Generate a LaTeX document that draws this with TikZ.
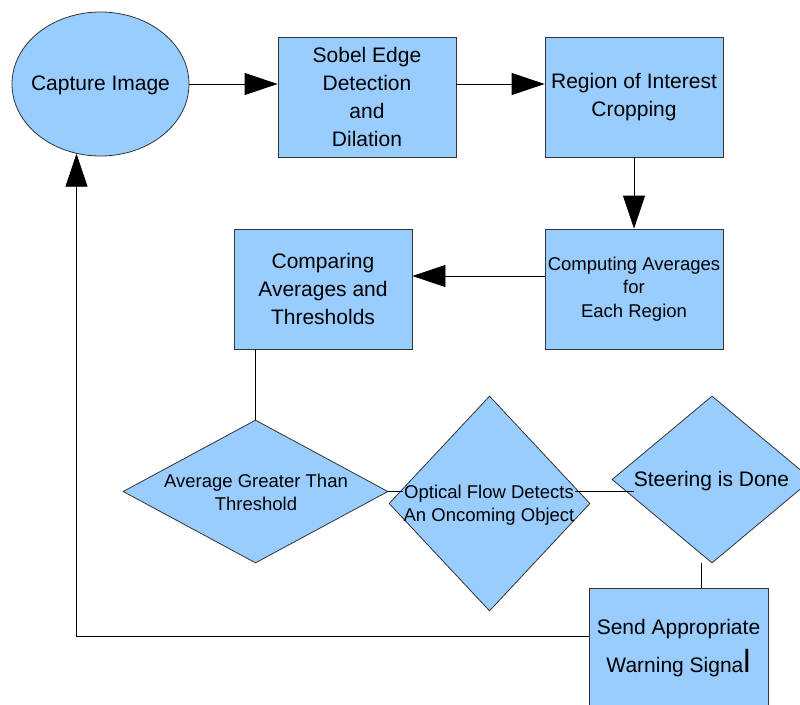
\documentclass[tikz,border=0pt]{standalone}
\usepackage{fontspec}
\setmainfont{Liberation Sans}
\usetikzlibrary{shapes.geometric,arrows.meta}
\definecolor{boxblue}{HTML}{99CCFF}
\begin{document}
\begin{tikzpicture}[x=1pt,y=-1pt,
  box/.style={draw=black!80, fill=boxblue, line width=0.8pt, rectangle, inner sep=0pt, align=center, minimum width=178pt, minimum height=120pt},
  bigfont/.style={font=\fontsize{21}{27.7}\selectfont},
  smallfont/.style={font=\fontsize{18.5}{23.5}\selectfont},
  dia/.style={draw=black!80, fill=boxblue, line width=0.8pt, diamond, inner sep=0pt},
  lbl/.style={inner sep=0pt, align=center},
  conn/.style={draw=black, line width=0.8pt},
  arr/.style={conn, -{Triangle[length=33pt,width=22pt]}}
]
\useasboundingbox (0,0) rectangle (800,704);
\begin{scope}
\clip (0,0) rectangle (800,704);
% nodes
\node[ellipse, draw=black!80, fill=boxblue, line width=0.8pt, minimum width=177pt, minimum height=144pt, inner sep=0pt] (cap) at (100.5,84) {};
\node[lbl, bigfont] (capt) at (100.5,85) {Capture Image};
\node[box, bigfont] (sobel) at (367,97) {Sobel Edge\\Detection\\and\\Dilation};
\node[box, bigfont] (roi) at (634,97) {Region of Interest\\Cropping};
\node[box, smallfont] (comp) at (634,289) {Computing Averages\\for\\Each Region};
\node[box, bigfont] (cmpr) at (323,289) {Comparing\\Averages and\\Thresholds};
\node[box, bigfont, minimum width=179pt] (send) at (678.5,648) {Send Appropriate\\[10pt]Warning Signa{\fontsize{32}{32}\selectfont l}};
\node[dia, minimum width=265pt, minimum height=143pt] (d1) at (255.5,491.5) {};
\node[lbl, smallfont] (d1t) at (256,492.5) {Average Greater Than\\Threshold};
\node[dia, minimum width=201pt, minimum height=215pt] (d2) at (489.5,503.5) {};
\node[lbl, smallfont] (d2t) at (489,505) {Optical Flow Detects\\An Oncoming Object};
\node[dia, minimum width=200pt, minimum height=167pt] (d3) at (712,479.5) {};
\node[lbl, bigfont] (d3t) at (711.5,481) {Steering is Done};
% connectors
\draw[arr] (cap.east) -- (cap.east -| sobel.west);
\draw[arr] (sobel.east |- cap.east) -- (roi.west |- cap.east);
\draw[arr] (roi.south) -- (comp.north);
\draw[arr] ([yshift=13pt]comp.west) -- ([yshift=13pt]cmpr.east);
\draw[conn] (cmpr.south -| d1.north) -- (d1.north);
\draw[conn] (d1.east) -- (d1.east -| d2t.west);
\draw[conn] (d2t.east |- d3t.south west) -- (d3t.south west);
\draw[conn] ([xshift=-11pt]d3.south) -- ([xshift=-11pt]d3.south |- send.north);
\draw[arr] ([yshift=12pt]send.west) -| (cap.251);
\end{scope}
\end{tikzpicture}
\end{document}
